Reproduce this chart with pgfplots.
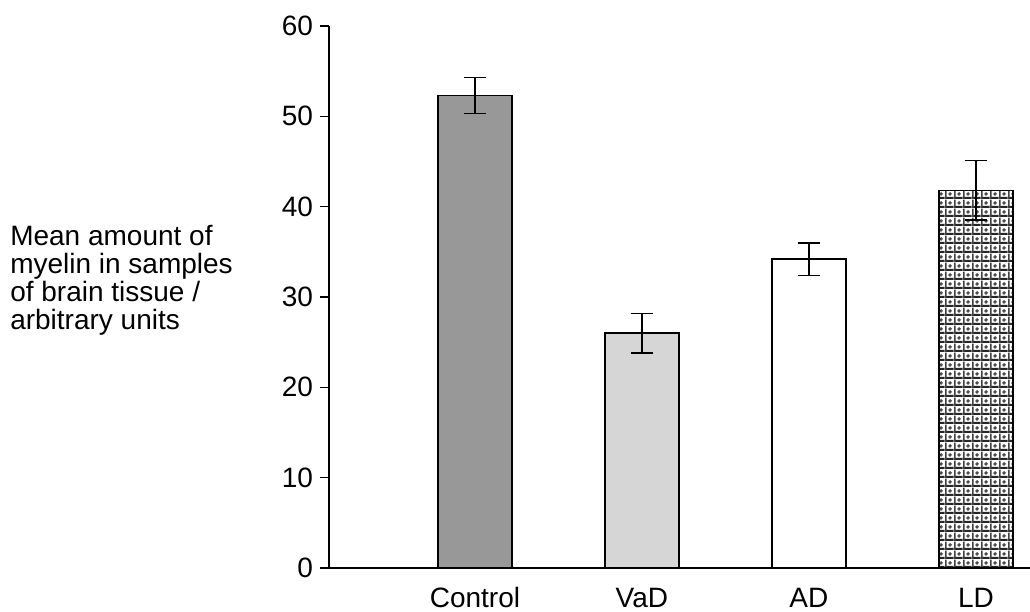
\documentclass[border=0pt]{standalone}
\usepackage{fontspec}
\setmainfont{Liberation Sans}
\usepackage{pgfplots}
\pgfplotsset{compat=1.18}
\usetikzlibrary{patterns.meta}
\definecolor{ctrl}{RGB}{152,152,152}
\definecolor{vad}{RGB}{214,214,214}
\tikzdeclarepattern{
  name=ldcheck,
  type=colored,
  bounding box={(0pt,0pt) and (6.5pt,6.5pt)},
  tile size={(6.5pt,6.5pt)},
  code={
    \fill[white] (0pt,0pt) rectangle (6.5pt,6.5pt);
    \fill[black!85] (0pt,0pt) rectangle (6.5pt,1.6pt);
    \fill[black!75] (0pt,0pt) rectangle (1.3pt,6.5pt);
    \fill[black!70] (3.9pt,3.9pt) circle (1.5pt);
  }
}
\begin{document}
\begin{tikzpicture}
\useasboundingbox (0,0) rectangle (772.5pt,458.25pt);
\begin{axis}[
  at={(246.75pt,32.25pt)}, anchor=south west,
  scale only axis, width=525.75pt, height=406.5pt,
  xmin=0.126, xmax=4.324, ymin=0, ymax=60,
  axis x line*=bottom, axis y line*=left,
  ytick={0,10,...,60}, xtick={1,2,3,4}, xticklabels={Control,VaD,AD,LD},
  tick align=outside, major tick length=6.75pt,
  x tick style={draw=none},
  axis line style={line width=1.1pt, black},
  y tick style={line width=1.1pt, black},
  tick label style={font=\fontsize{21}{21}\selectfont},
  /pgf/number format/assume math mode=true,
  yticklabel style={inner sep=0pt, xshift=-5pt},
  xticklabel style={anchor=base, inner sep=0pt, yshift=-22.5pt},
  ybar, bar width=55.5pt,
  error bars/y dir=both, error bars/y explicit,
  error bars/error bar style={line width=1.1pt, black},
  error bars/error mark options={rotate=90, mark size=8.5pt, line width=1.1pt, black},
]
\addplot[bar shift=0pt, draw=black, line width=1.1pt, fill=ctrl] coordinates {(1,52.3) +- (0,2.0)};
\addplot[bar shift=0pt, draw=black, line width=1.1pt, fill=vad] coordinates {(2,26.0) +- (0,2.2)};
\addplot[bar shift=0pt, draw=black, line width=1.1pt, fill=white] coordinates {(3,34.2) +- (0,1.8)};
\addplot[bar shift=0pt, draw=black, line width=1.1pt, pattern=ldcheck] coordinates {(4,41.8) +- (0,3.3)};
\end{axis}
\node[anchor=north west, inner sep=0pt, align=left, font=\fontsize{21}{21}\selectfont] at (7.5pt,289.5pt) {Mean amount of\\myelin in samples\\of brain tissue /\\arbitrary units};
\end{tikzpicture}
\end{document}
